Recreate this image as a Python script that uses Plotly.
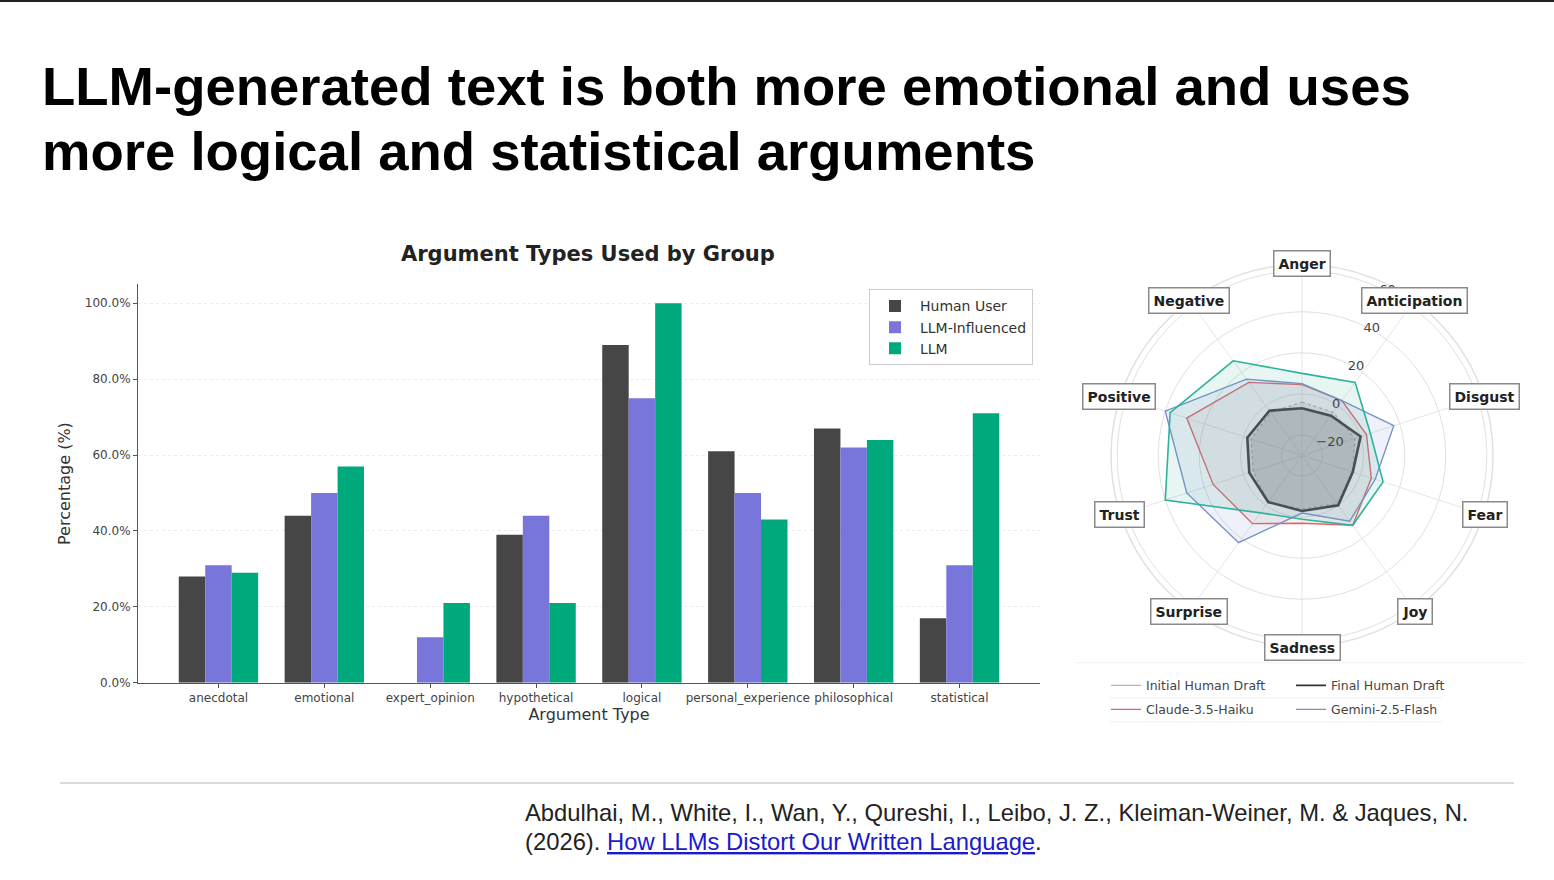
import math
import plotly.graph_objects as go

# the page is photographed slightly squeezed vertically, so the figure is a bit
# taller than the window and positions are placed in 880-px picture units
W, H = 1554, 888
PIC_H = 880


def px(x):
    return x / W


def py(y):
    return 1 - y / PIC_H


# ---- bar chart data ----
arg_types = ["anecdotal", "emotional", "expert_opinion", "hypothetical", "logical",
             "personal_experience", "philosophical", "statistical"]
human_user = [28, 44, 0, 39, 89, 61, 67, 17]
llm_influenced = [31, 50, 12, 44, 75, 50, 62, 31]
llm = [29, 57, 21, 21, 100, 43, 64, 71]
pct_ticks = [0, 20, 40, 60, 80, 100]

# ---- radar data (clockwise from top) ----
emotions = ["Anger", "Anticipation", "Disgust", "Fear", "Joy",
            "Sadness", "Surprise", "Trust", "Positive", "Negative"]
initial_human = [-4, -4, -3, -4, -1, -4, -2, -5, -4, -4]
final_human = [-7, -6, 0, -4, 0, -3, -2, -3, -2, -3]
claude = [4.5, 3, 3, 5.5, 12, 3, 11, 15.5, 29, 14]
gemini = [5, 3, 17, 7.5, 9.5, -2, 22.5, 29, 40, 16]
teal_model = [10, 14, 5, 11.5, 12, 1, 4.5, 40, 37.5, 27]
radial_ticks = [-20, 0, 20, 40, 60]

bar_colors = {"Human User": "#464646", "LLM-Influenced": "#7876da", "LLM": "#00a97c"}
chart_font = "DejaVu Sans"

fig = go.Figure()

for name, vals in [("Human User", human_user), ("LLM-Influenced", llm_influenced), ("LLM", llm)]:
    fig.add_trace(go.Bar(x=arg_types, y=vals, name=name, marker_color=bar_colors[name],
                         marker_line_width=0, legend="legend"))


def closed(vals):
    return list(vals) + [vals[0]]


radar_series = [
    ("Initial Human Draft", initial_human, "#b5b5b5", 1.2, "dot", "rgba(150,150,150,0.18)"),
    ("Final Human Draft", final_human, "#333333", 2.6, "solid", "rgba(70,70,70,0.2)"),
    ("Claude-3.5-Haiku", claude, "#e06464", 1.4, "solid", "rgba(200,110,110,0.10)"),
    ("Gemini-2.5-Flash", gemini, "#7892c8", 1.4, "solid", "rgba(120,150,210,0.13)"),
    ("Teal model", teal_model, "#2fb29b", 1.6, "solid", "rgba(60,175,160,0.12)"),
]

for name, vals, col, lw, dash, fillc in radar_series:
    fig.add_trace(go.Scatterpolar(r=closed(vals), theta=closed(emotions), mode="lines",
                                  fill="toself", fillcolor=fillc,
                                  line=dict(color=col, width=lw, dash=dash),
                                  name=name, showlegend=False))

# line-only legend entries for the radar, two per row
for k, (name, vals, col, lw, dash, fillc) in enumerate(radar_series[:4]):
    fig.add_trace(go.Scatterpolar(r=[None], theta=[None], mode="lines",
                                  line=dict(color=col, width=min(lw, 1.8)),
                                  name=name, legend="legend2" if k < 2 else "legend3"))

# radar: boxed category labels
cx, cy, r_lab = 1302, 455, 192
annotations = []
for i, emo in enumerate(emotions):
    ang = math.radians(90 - 36 * i)
    annotations.append(dict(x=px(cx + r_lab * math.cos(ang)), y=py(cy - r_lab * math.sin(ang)),
                            text=f"<b>{emo}</b>",
                            font=dict(family=chart_font, size=14, color="#222"),
                            bgcolor="white", bordercolor="#8a8a8a", borderwidth=1.5, borderpad=4))

# slide texts
annotations += [
    dict(x=px(40), y=py(86), text="<b>LLM-generated text is both more emotional and uses</b>",
         xanchor="left", font=dict(family="Liberation Sans", size=54.5, color="black")),
    dict(x=px(40), y=py(151), text="<b>more logical and statistical arguments</b>",
         xanchor="left", font=dict(family="Liberation Sans", size=54.5, color="black")),
    dict(x=px(588), y=py(254), text="<b>Argument Types Used by Group</b>",
         font=dict(family=chart_font, size=21, color="#222")),
    dict(x=px(523), y=py(812),
         text="Abdulhai, M., White, I., Wan, Y., Qureshi, I., Leibo, J. Z., Kleiman-Weiner, M. &amp; Jaques, N.",
         xanchor="left", font=dict(family="Liberation Sans", size=23.8, color="#222")),
    dict(x=px(523), y=py(841),
         text="(2026). <span style='color:#1a1acc'><u>How LLMs Distort Our Written Language</u></span>.",
         xanchor="left", font=dict(family="Liberation Sans", size=23.8, color="#222")),
]
for a in annotations:
    a.setdefault("xanchor", "center")
    a.update(xref="paper", yref="paper", yanchor="middle", showarrow=False)

shapes = [
    dict(type="line", xref="paper", yref="paper", x0=px(60), x1=px(1514), y0=py(782), y1=py(782),
         line=dict(color="#cfcfcf", width=1.5)),
    dict(type="rect", xref="paper", yref="paper", x0=0, x1=1, y0=py(2), y1=1,
         line=dict(width=0), fillcolor="#222"),
    dict(type="line", xref="paper", yref="paper", x0=px(1075), x1=px(1525), y0=py(662), y1=py(662),
         line=dict(color="#f0f0f0", width=1)),
]
for y_sep in (697, 721):
    shapes.append(dict(type="line", xref="paper", yref="paper", x0=px(1110), x1=px(1442),
                       y0=py(y_sep), y1=py(y_sep), line=dict(color="#eeeeee", width=1)))

fig.update_layout(
    width=W, height=H,
    margin=dict(l=0, r=0, t=0, b=0),
    paper_bgcolor="white", plot_bgcolor="white",
    barmode="group", bargap=0.25, bargroupgap=0,
    font=dict(family=chart_font, color="#444"),
    xaxis=dict(domain=[px(138), px(1040)], range=[-0.76, 7.76], tickangle=0,
               showline=True, linecolor="#555", linewidth=1, ticks="outside", ticklen=4,
               tickcolor="#555", tickfont=dict(size=12, color="#444"),
               title=dict(text="Argument Type", font=dict(size=16, color="#333"), standoff=4),
               showgrid=False, zeroline=False),
    yaxis=dict(domain=[py(682), py(284)], range=[0, 105], tickvals=pct_ticks,
               ticktext=[f"{v:.1f}%" for v in pct_ticks], showline=True, linecolor="#555",
               linewidth=1, ticks="outside", ticklen=4, tickcolor="#555",
               tickfont=dict(size=12, color="#444"),
               title=dict(text="Percentage (%)", font=dict(size=16, color="#333"), standoff=10),
               showgrid=True, gridcolor="#ececec", griddash="dot", zeroline=False),
    polar=dict(
        domain=dict(x=[px(cx - 191), px(cx + 191)], y=[py(cy + 191), py(cy - 191)]),
        bgcolor="white",
        angularaxis=dict(rotation=90, direction="clockwise", showticklabels=False, ticks="",
                         gridcolor="#e6e6e6", linecolor="#e0e0e0", linewidth=1.5),
        radialaxis=dict(range=[-30, 63], tickvals=radial_ticks, angle=67.5, tickangle=67.5,
                        showline=False, ticks="", gridcolor="#e0e0e0",
                        tickfont=dict(size=13, color="#444")),
    ),
    legend=dict(x=px(1033), y=py(289), xanchor="right", yanchor="top",
                bgcolor="white", bordercolor="#cccccc", borderwidth=1,
                font=dict(size=14, color="#333"), itemwidth=40, tracegroupgap=2),
    legend2=dict(x=px(1106), y=py(670), xanchor="left", yanchor="top", orientation="h",
                 entrywidth=140, font=dict(size=12.5, color="#444"), bgcolor="rgba(0,0,0,0)"),
    legend3=dict(x=px(1106), y=py(694), xanchor="left", yanchor="top", orientation="h",
                 entrywidth=140, font=dict(size=12.5, color="#444"), bgcolor="rgba(0,0,0,0)"),
    annotations=annotations,
    shapes=shapes,
)

# page body has a default margin; drop it so the figure fills the window
fig.write_html("out.html", config={"displayModeBar": False},
               post_script="document.body.style.margin = '0';")
